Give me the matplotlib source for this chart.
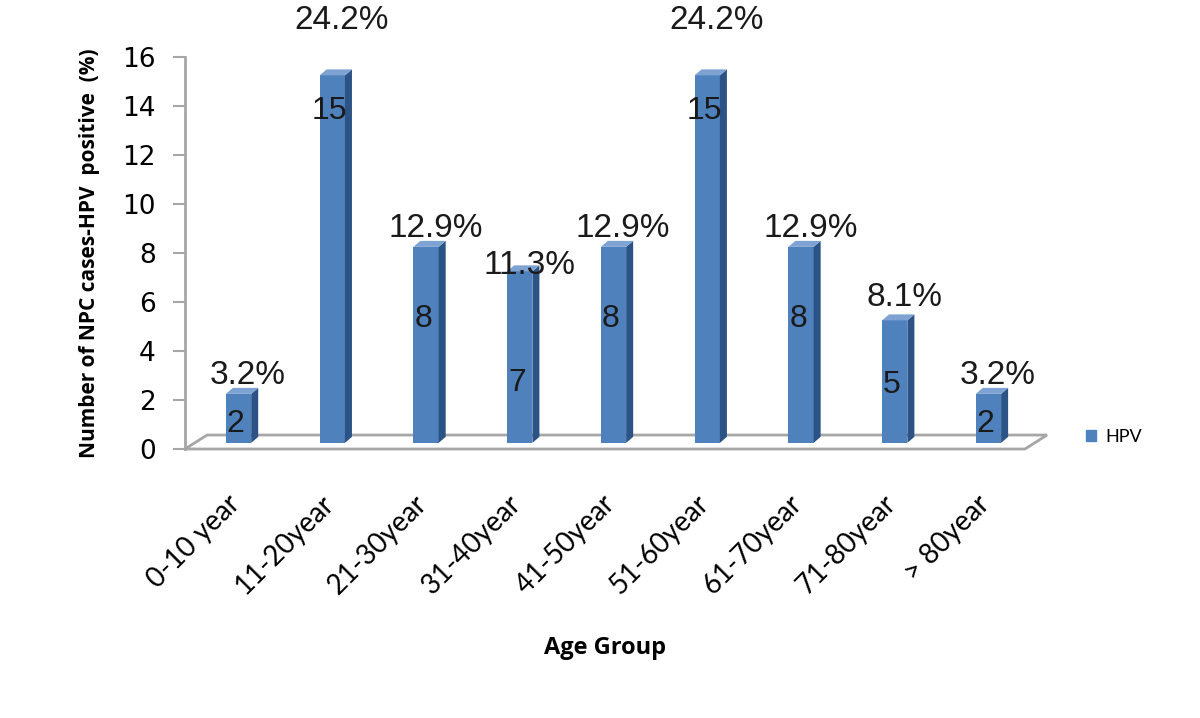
import matplotlib
matplotlib.use("Agg")
import matplotlib.pyplot as plt
import matplotlib.transforms as mtransforms
from matplotlib.patches import Polygon, Patch

# data
age_groups = ['0-10 year', '11-20year', '21-30year', '31-40year', '41-50year',
              '51-60year', '61-70year', '71-80year', '> 80year']
counts = [2, 15, 8, 7, 8, 15, 8, 5, 2]
percents = ['3.2%', '24.2%', '12.9%', '11.3%', '12.9%', '24.2%', '12.9%', '8.1%', '3.2%']

# label placement (offsets, in y units, as the original chart had them dragged)
pct_offset = [1.0, 2.5, 1.0, 0.5, 1.0, 2.5, 1.0, 1.2, 1.0]
cnt_pos = [1.0, 13.8, 5.3, 2.7, 5.3, 13.8, 5.3, 2.6, 1.0]

front = '#4F81BD'
side = '#2C5385'
top = '#7EA3D3'
grey = '#A6A6A6'

fig = plt.figure(figsize=(12, 7.18), dpi=100)
ax = fig.add_axes([185 / 1200, 1 - 449 / 718, (1025 - 185) / 1200, (449 - 57) / 718])

xmin, xmax = -0.571, 8.39
ax.set_xlim(xmin, xmax)
ax.set_ylim(0, 16)

w = 0.27      # bar width
s = 0.25      # bars sit a little behind the front edge of the floor
dx, dy = 0.075, 0.245   # 3d depth of bar

# floor
fdx, fdy = 0.235, 0.57
floor = Polygon([(xmin, 0), (xmax, 0), (xmax + fdx, fdy), (xmin + fdx, fdy)],
                closed=True, facecolor='white', edgecolor=grey, lw=2,
                clip_on=False, zorder=1)
ax.add_patch(floor)

xs = list(range(len(counts)))
ax.bar(xs, counts, width=w, bottom=s, color=front, zorder=3, edgecolor='none')
for x, v in zip(xs, counts):
    r = x + w / 2
    l = x - w / 2
    ax.add_patch(Polygon([(r, s), (r + dx, s + dy), (r + dx, v + s + dy), (r, v + s)],
                         closed=True, facecolor=side, edgecolor='none', zorder=3, clip_on=False))
    ax.add_patch(Polygon([(l, v + s), (l + dx, v + s + dy), (r + dx, v + s + dy), (r, v + s)],
                         closed=True, facecolor=top, edgecolor='none', zorder=3, clip_on=False))

# labels
for x, v, p, off, cy in zip(xs, counts, percents, pct_offset, cnt_pos):
    ax.text(x + 0.1, v + off, p, ha='center', va='center', fontsize=24,
            family='Liberation Sans', color='#1a1a1a', zorder=5, clip_on=False)
    ax.text(x - 0.03, cy, str(v), ha='center', va='center', fontsize=23,
            family='Liberation Sans', color='#1a1a1a', zorder=5)

# axes styling
for sp in ['top', 'right', 'bottom']:
    ax.spines[sp].set_visible(False)
ax.spines['left'].set_color(grey)
ax.spines['left'].set_linewidth(2)
ax.set_yticks(range(0, 17, 2))
ax.tick_params(axis='y', length=9, width=1.5, color=grey, pad=12,
               labelsize=19)
for t in ax.get_yticklabels():
    t.set_family('DejaVu Sans')
ax.set_xticks(xs)
ax.set_xticklabels(age_groups, rotation=45, ha='right', va='top',
                   fontsize=20, family='Lato', rotation_mode='anchor')
ax.tick_params(axis='x', length=0, pad=30)
shift = mtransforms.ScaledTranslation(-12 / 100, 0, fig.dpi_scale_trans)
for t in ax.get_xticklabels():
    t.set_transform(t.get_transform() + shift)

ax.set_ylabel('Number of NPC cases-HPV  positive  (%)', fontsize=15,
              fontweight='bold', family='Open Sans', labelpad=16)
ax.set_xlabel('Age Group', fontsize=17, fontweight='bold', family='Open Sans',
              labelpad=26)

ax.legend(handles=[Patch(color=front)], labels=['HPV'], frameon=False,
          loc='center left', bbox_to_anchor=(1070 / 1200, 1 - 437 / 718),
          bbox_transform=fig.transFigure, handlelength=0.55, handleheight=0.55,
          handletextpad=0.5, prop={'family': 'Lato', 'size': 13})

fig.savefig('out.png', dpi=100)
